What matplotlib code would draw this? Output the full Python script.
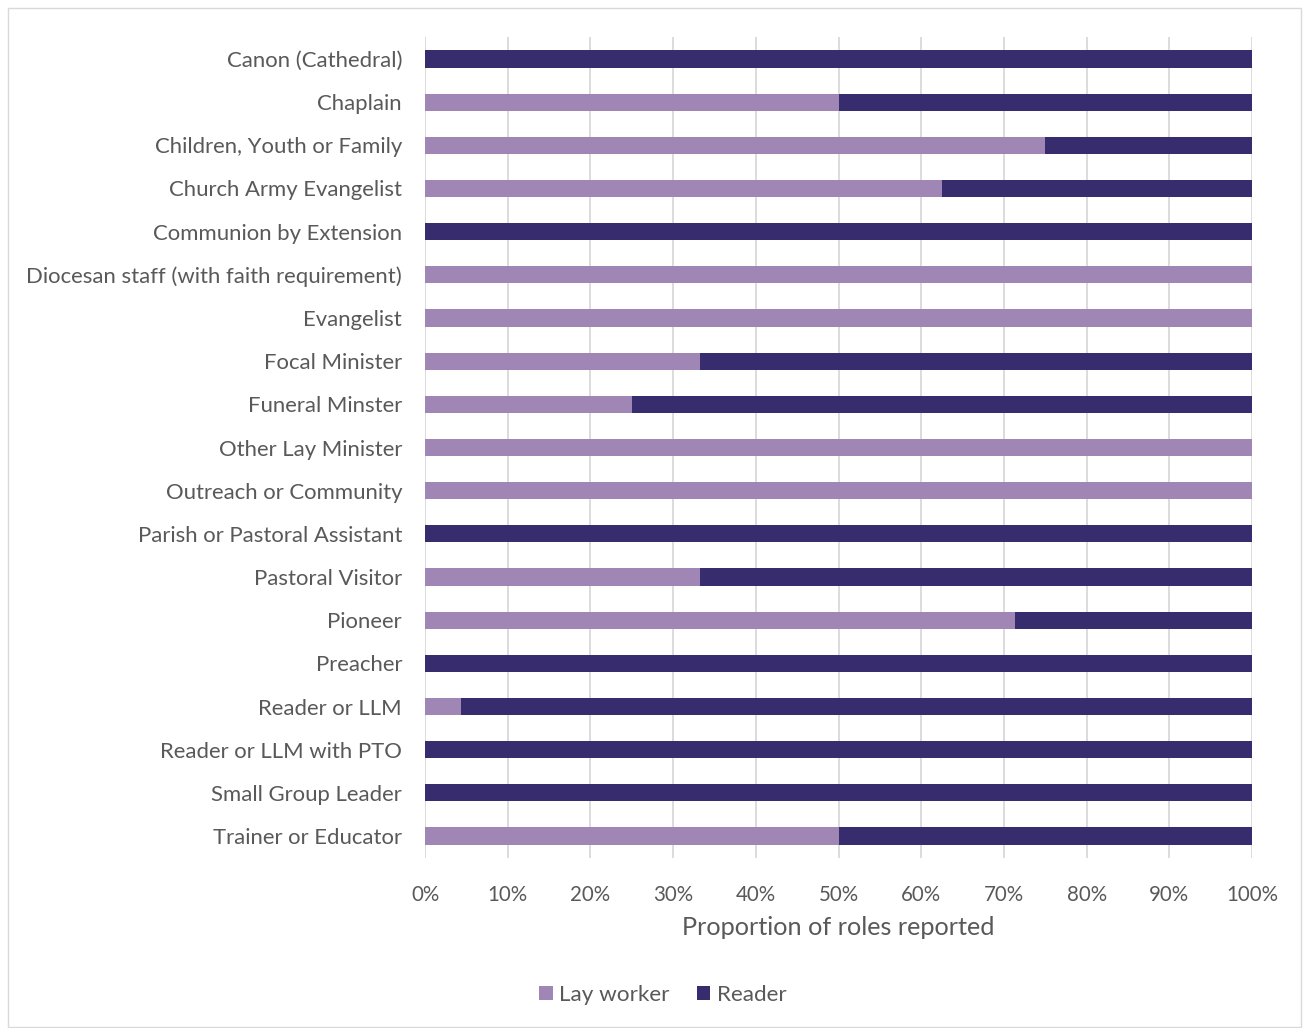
import matplotlib
matplotlib.use("Agg")
import matplotlib.pyplot as plt
from matplotlib.ticker import PercentFormatter
from matplotlib.patches import Rectangle

plt.rcParams['font.family'] = ['Lato', 'DejaVu Sans']

categories = [
    "Canon (Cathedral)", "Chaplain", "Children, Youth or Family",
    "Church Army Evangelist", "Communion by Extension",
    "Diocesan staff (with faith requirement)", "Evangelist", "Focal Minister",
    "Funeral Minster", "Other Lay Minister", "Outreach or Community",
    "Parish or Pastoral Assistant", "Pastoral Visitor", "Pioneer", "Preacher",
    "Reader or LLM", "Reader or LLM with PTO", "Small Group Leader",
    "Trainer or Educator",
]
lay_worker = [0.0, 0.5, 0.75, 0.625, 0.0, 1.0, 1.0, 0.333, 0.25, 1.0, 1.0,
              0.0, 0.333, 0.714, 0.0, 0.043, 0.0, 0.0, 0.5]
reader = [1.0 - v for v in lay_worker]

lay_color = "#A086B5"
reader_color = "#372C6E"
text_color = "#595959"

fig = plt.figure(figsize=(13.09, 10.28), dpi=100)
ax = fig.add_axes([425/1309, 1 - 857.6/1028, (1252-425)/1309, (857.6-37.4)/1028])

y = list(range(len(categories)))
ax.barh(y, lay_worker, height=0.4, color=lay_color, label="Lay worker", zorder=3)
ax.barh(y, reader, left=lay_worker, height=0.4, color=reader_color, label="Reader", zorder=3)

ax.set_yticks(y)
ax.set_yticklabels(categories)
ax.set_ylim(len(categories) - 0.5, -0.5)
ax.set_xlim(0, 1)
ax.set_xticks([i / 10 for i in range(11)])
ax.xaxis.set_major_formatter(PercentFormatter(1.0, decimals=0))
ax.grid(axis='x', color="#D9D9D9", linewidth=1.3, zorder=0)
for s in ax.spines.values():
    s.set_visible(False)
ax.tick_params(axis='y', length=0, labelsize=15.9, labelcolor=text_color, pad=16.5)
ax.tick_params(axis='x', length=0, labelsize=14.8, labelcolor=text_color, pad=20)
ax.set_xlabel("Proportion of roles reported", fontsize=18.2, color=text_color, labelpad=8)

leg = fig.legend(loc='center', bbox_to_anchor=(663/1309, 1 - 995/1028), ncol=2,
                 frameon=False, fontsize=16.2, handlelength=0.6, handleheight=0.6,
                 handletextpad=0.3, columnspacing=1.2)
for t in leg.get_texts():
    t.set_color(text_color)

fig.patches.append(Rectangle((8/1309, 1 - 1027/1028), 1 - 16/1309, (1027-8)/1028,
                             transform=fig.transFigure, fill=False,
                             edgecolor="#D9D9D9", linewidth=1))

fig.savefig("out.png", dpi=100)
